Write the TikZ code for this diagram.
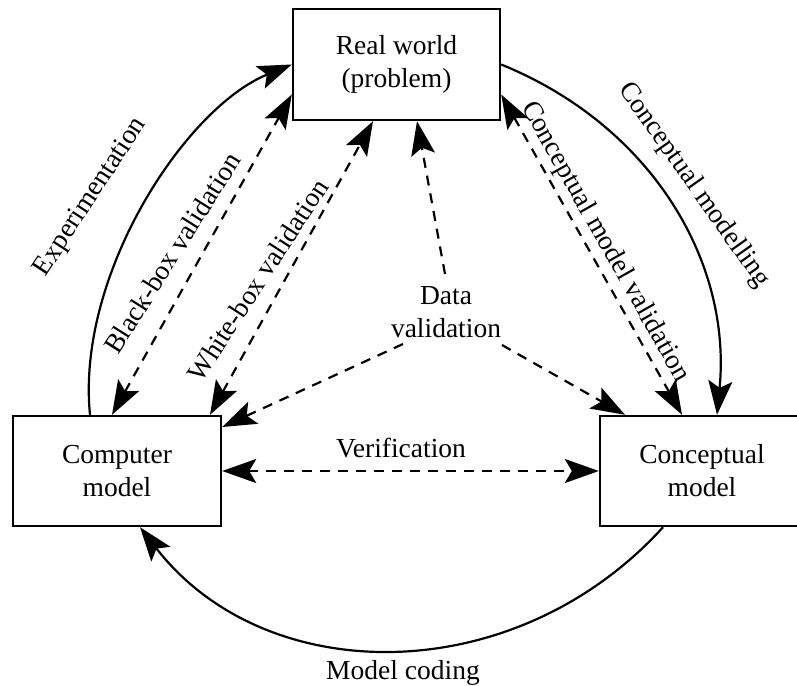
\documentclass[tikz,border=0pt]{standalone}
\usepackage{fontspec}
\setmainfont{Liberation Serif}
\usetikzlibrary{arrows.meta,calc}
\begin{document}
\begin{tikzpicture}[x=1pt,y=-1pt,
  box/.style={draw, line width=2.4pt, inner sep=0pt, align=center, font=\fontsize{27.5}{33}\selectfont},
  lbl/.style={font=\fontsize{27.5}{33}\selectfont, inner sep=0pt, align=center},
  sline/.style={line width=2.2pt},
  dline/.style={line width=2.2pt, dash pattern=on 10pt off 8pt},
  tip/.style={-{Stealth[length=34pt,width=24pt,inset=7pt]}},
  dtip/.style={{Stealth[length=34pt,width=24pt,inset=7pt]}-{Stealth[length=34pt,width=24pt,inset=7pt]}}
]
\useasboundingbox (0,0) rectangle (797,685);
\clip (0,0) rectangle (797,685);

\node[box, minimum width=207pt, minimum height=111pt] (rw) at (396.5,64.5) {Real world\\(problem)};
\node[box, minimum width=208pt, minimum height=110pt] (cm) at (117,471) {Computer\\model};
\node[box, minimum width=204pt, minimum height=110pt] (cp) at (702,471) {Conceptual\\model};
\node[lbl] (dv) at (446,312) {Data\\validation};

% solid cycle arcs
\draw[sline,tip] ([xshift=-27pt]cm.north) .. controls (76,275) and (185,108) .. (rw.west);
\draw[sline,tip] (rw.east) .. controls (650,125) and (732,260) .. ([xshift=15pt]cp.north);
\draw[sline,tip] ([xshift=-39pt]cp.south) .. controls (515,690) and (266,690) .. ([xshift=23pt]cm.south);

% dashed validations
\draw[dline,dtip] ([xshift=-5pt]cm.north) -- ([yshift=-30pt]rw.west);
\draw[dline,dtip] ([xshift=93pt]cm.north) -- ([xshift=-23.5pt]rw.south);
\draw[dline,dtip] ([yshift=-30pt]rw.east) -- ([xshift=-20pt]cp.north);
\draw[dline,dtip] (cm.east) -- (cp.west);
\draw[dline,tip] ([xshift=-1pt,yshift=38pt]dv.center) -- ([xshift=20.5pt]rw.south);
\draw[dline,tip] ([xshift=-43pt,yshift=-32pt]dv.center) -- ([yshift=44pt]cm.east);
\draw[dline,tip] ([xshift=56pt,yshift=-33pt]dv.center) -- ([xshift=-77pt]cp.north);

% labels
\node[lbl, rotate=56.8] (lexp) at (91,197) {Experimentation};
\node[lbl, rotate=57.7] (lbb) at (172,253) {Black-box validation};
\node[lbl, rotate=57] (lwb) at (258,280) {White-box validation};
\node[lbl, rotate=-60.5] (lcmv) at (605,242) {Conceptual model validation};
\node[lbl, rotate=-54.8] (lcm) at (694,185) {Conceptual modelling};
\node[lbl, anchor=base] (lver) at (401,457) {Verification};
\node[lbl, anchor=base] (lmc) at (403,679) {Model coding};
\end{tikzpicture}
\end{document}
